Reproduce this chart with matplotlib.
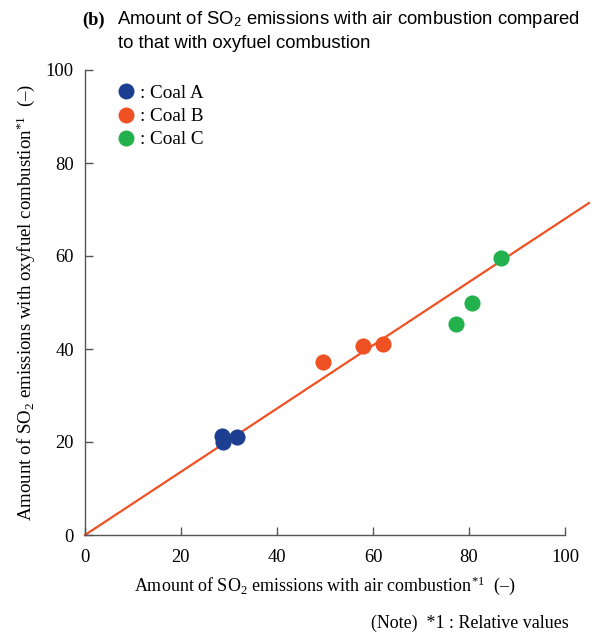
import matplotlib
matplotlib.use("Agg")
import matplotlib.pyplot as plt
from matplotlib.lines import Line2D

plt.rcParams['font.family'] = ['Liberation Serif', 'DejaVu Serif']
plt.rcParams['mathtext.fontset'] = 'custom'
plt.rcParams['mathtext.rm'] = 'Liberation Serif'
plt.rcParams['mathtext.it'] = 'Liberation Serif:italic'
plt.rcParams['mathtext.sf'] = 'Liberation Sans'

# Data
coal_a_x = [28.5, 28.8, 31.6]
coal_a_y = [21.2, 20.0, 21.1]
coal_b_x = [49.6, 58.0, 62.0]
coal_b_y = [37.3, 40.7, 41.1]
coal_c_x = [77.3, 80.7, 86.6]
coal_c_y = [45.4, 49.8, 59.5]
line_x = [0, 105]
line_y = [0, 71.4]
xticks = [0, 20, 40, 60, 80, 100]
yticks = [0, 20, 40, 60, 80, 100]

c_a = '#1c3f92'
c_b = '#f05123'
c_c = '#23b14d'

fig = plt.figure(figsize=(5.99, 6.36), dpi=100)
ax = fig.add_axes([85/599, 1-535/636, (589-85)/599, (535-70)/636])

ax.plot(line_x, line_y, color=c_b, lw=1.6, zorder=2, clip_on=False)
ms = 135
ax.scatter(coal_a_x, coal_a_y, s=ms, color=c_a, zorder=3, linewidths=0, clip_on=False)
ax.scatter(coal_b_x, coal_b_y, s=ms, color=c_b, zorder=3, linewidths=0, clip_on=False)
ax.scatter(coal_c_x, coal_c_y, s=ms, color=c_c, zorder=3, linewidths=0, clip_on=False)

ax.set_xlim(0, 105)
ax.set_ylim(0, 100)
ax.spines['top'].set_visible(False)
ax.spines['right'].set_visible(False)
ax.spines['bottom'].set_bounds(0, 100)
for s in ['left', 'bottom']:
    ax.spines[s].set_color('#555555')
    ax.spines[s].set_linewidth(1.0)
ax.set_xticks(xticks)
ax.set_yticks(yticks)
ax.tick_params(direction='in', length=6, width=1.0, color='#555555', labelsize=13.3)
ax.tick_params(axis='x', pad=10)
ax.tick_params(axis='y', pad=8)

ax.set_xlabel('Amount of SO$_2$ emissions with air combustion$^{*1}$  (–)', fontsize=13)
ax.xaxis.set_label_coords(50/105, -0.085)
ax.set_ylabel('Amount of SO$_2$ emissions with oxyfuel combustion$^{*1}$  (–)', fontsize=13.6, labelpad=6)

handles = [Line2D([], [], marker='o', ls='none', ms=11.5, color=c, markeredgewidth=0)
           for c in (c_a, c_b, c_c)]
leg = ax.legend(handles, [': Coal A', ': Coal B', ': Coal C'], loc='upper left',
                bbox_to_anchor=(0.04, 0.985), frameon=False, fontsize=13.8,
                handletextpad=0.0, handlelength=1.4, labelspacing=0.3, borderaxespad=0)

fig.text(82/599, 1-20/636, '(b)', fontsize=13.3, fontweight='bold', va='center', ha='left',
         family='Liberation Serif')
fig.text(117/599, 1-20/636, 'Amount of SO$_\\mathsf{2}$ emissions with air combustion compared',
         fontsize=13.3, va='center', ha='left', family='Liberation Sans')
fig.text(118/599, 1-44/636, 'to that with oxyfuel combustion',
         fontsize=13.3, va='center', ha='left', family='Liberation Sans')
fig.text(569/599, 1-623/636, '(Note)  *1 : Relative values', fontsize=12.9, va='center', ha='right')

fig.savefig('out.png', dpi=100)
